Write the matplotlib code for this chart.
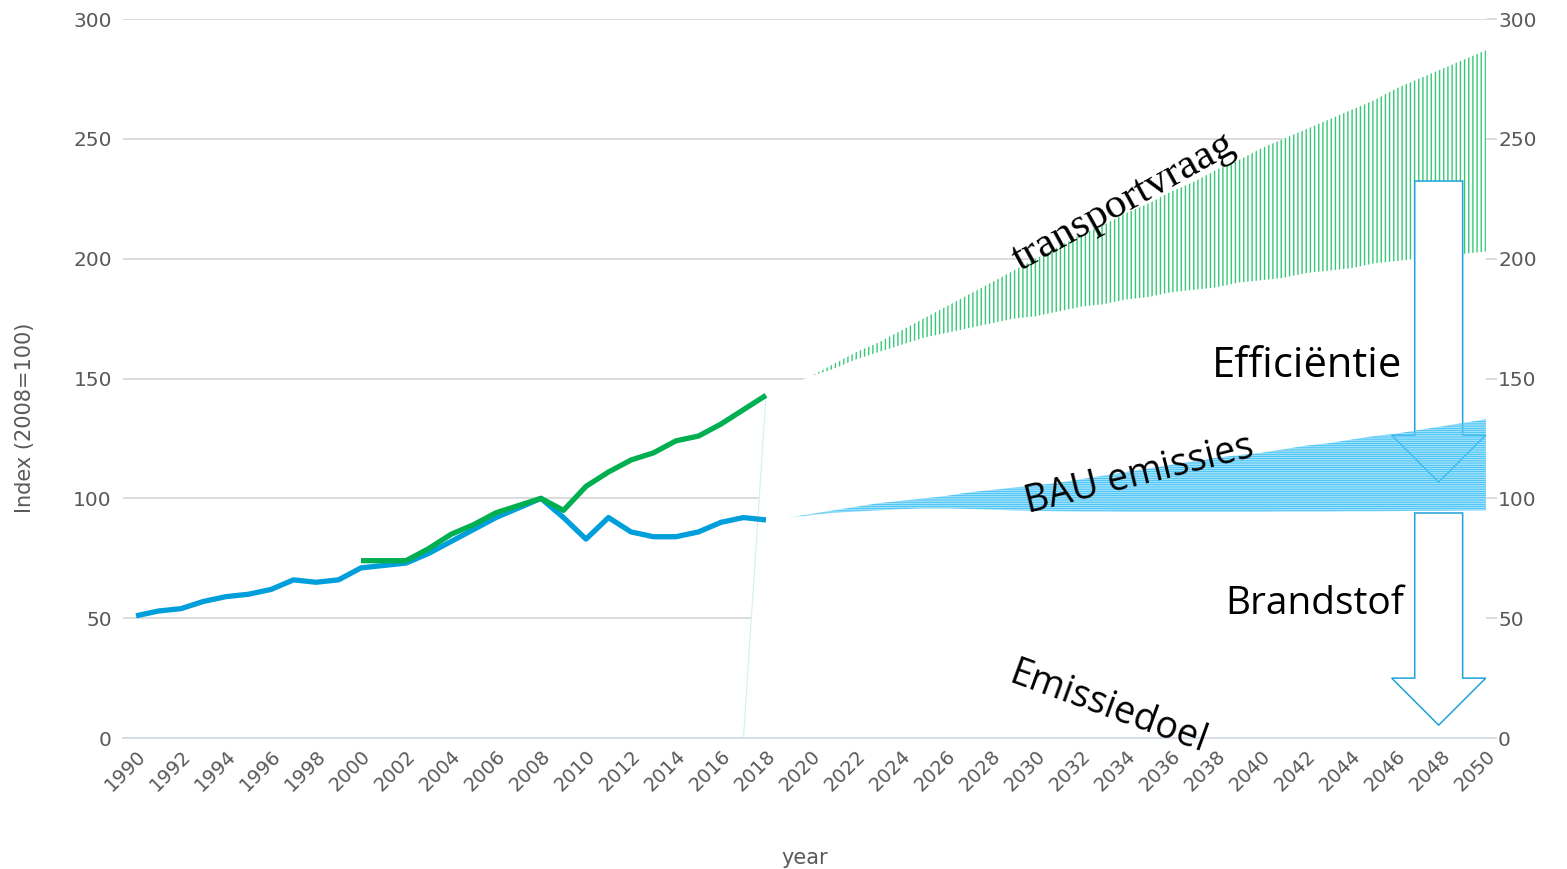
import matplotlib
matplotlib.use('Agg')
import matplotlib.pyplot as plt
from matplotlib.patches import FancyArrow
import numpy as np

# historical series, index 2008 = 100
hist_years = np.arange(1990, 2019)
emissions = [51, 53, 54, 57, 59, 60, 62, 66, 65, 66, 71, 72, 73, 77, 82, 87, 92, 96, 100,
             92, 83, 92, 86, 84, 84, 86, 90, 92, 91]
demand_years = np.arange(2000, 2019)
demand = [74, 74, 74, 79, 85, 89, 94, 97, 100, 95, 105, 111, 116, 119, 124, 126, 131, 137, 143]

# scenario bands 2018-2050
scen_years = np.arange(2018, 2051)
demand_high = [143, 147, 151, 156, 161, 165, 170, 175, 180, 185, 190, 195, 200, 205, 210, 214, 219,
               223, 228, 232, 237, 241, 246, 250, 254, 258, 262, 266, 271, 275, 279, 283, 287]
demand_low = [143, 147, 151, 154, 158, 161, 164, 167, 169, 171, 173, 175, 176, 178, 180, 181, 183,
              184, 186, 187, 188, 190, 191, 192, 194, 195, 196, 198, 199, 200, 201, 202, 203]
bau_high = [91, 92, 93.5, 95, 96.5, 98, 99, 100, 101, 102.5, 103.5, 104.5, 105.5, 106.5, 108, 109.5, 111,
            112.5, 114, 115.5, 117, 118, 119, 120.5, 122, 123, 124.5, 126, 127, 128.5, 130, 131.5, 133]
bau_low = [91, 92, 93, 94, 94.5, 95, 95.5, 95.8, 95.8, 95.6, 95.3, 95, 94.8, 94.6, 94.5, 94.5, 94.4,
           94.4, 94.4, 94.4, 94.4, 94.4, 94.4, 94.5, 94.5, 94.5, 94.6, 94.6, 94.7, 94.8, 94.8, 94.9, 95]

# white backdrop under the scenario part (starts from zero in 2017)
mask_years = np.arange(2017, 2051)
mask_top = [0] + demand_high

blue = '#009fdc'
green = '#00b050'
grey = '#595959'

plt.rcParams['hatch.linewidth'] = 1.0

fig = plt.figure(figsize=(15.67, 8.69), dpi=100)
ax = fig.add_axes([0.0785, 0.1507, 0.8704, 0.8274])

ax.fill_between(mask_years, 0, mask_top, facecolor='white', lw=0, zorder=1)
ax.plot(mask_years[:2], mask_top[:2], color='#d5eef6', lw=0.8, zorder=1.1)

ax.fill_between(scen_years, demand_low, demand_high, facecolor='none', edgecolor='#35c977',
                lw=0, hatch='||||', zorder=2)

# arrows: efficiency and fuel
arrow_kw = dict(width=2.13, head_width=4.18, length_includes_head=True,
                facecolor='white', edgecolor='#1ea2dc', lw=1.1)
ax.add_patch(FancyArrow(2047.9, 232.4, 0, -125.6, head_length=19.6, zorder=3, **arrow_kw))
ax.add_patch(FancyArrow(2047.9, 93.9, 0, -88.5, head_length=19.6, zorder=3, **arrow_kw))

ax.fill_between(scen_years, bau_low, bau_high, facecolor='none', edgecolor='#4fc6f5',
                lw=0, hatch='---------', zorder=3.5)

ax.plot(hist_years, emissions, color=blue, lw=3.8, solid_capstyle='butt', zorder=4)
ax.plot(demand_years, demand, color=green, lw=3.8, solid_capstyle='butt', zorder=5)

ax.text(2029.3, 194.8, 'transportvraag', family='Liberation Serif', fontsize=31,
        rotation=29, rotation_mode='anchor', ha='left', va='baseline', zorder=6)
ax.text(2046.27, 150.6, 'Efficiëntie', family='Open Sans', fontsize=30,
        ha='right', va='baseline', zorder=6)
ax.text(2029.64, 93.9, 'BAU emissies', family='Open Sans', fontsize=27,
        rotation=14, rotation_mode='anchor', ha='left', va='baseline', zorder=6)
ax.text(2046.35, 51.6, 'Brandstof', family='Open Sans', fontsize=28,
        ha='right', va='baseline', zorder=6)
ax.text(2028.71, 23.4, 'Emissiedoel', family='Open Sans', fontsize=27,
        rotation=-20, rotation_mode='anchor', ha='left', va='baseline', zorder=6)

ax.set_xlim(1989.422, 2050.044)
ax.set_ylim(0, 300)
ax.set_yticks(range(0, 301, 50))
ax.set_xticks(range(1990, 2051, 2))
ax.set_xticklabels([str(y) for y in range(1990, 2051, 2)], rotation=45,
                   ha='right', va='top', rotation_mode='anchor')

ax.yaxis.grid(True, color='#d9d9d9', lw=1.3)
ax.set_axisbelow(True)
for s in ['top', 'left', 'right']:
    ax.spines[s].set_visible(False)
ax.spines['bottom'].set_color('#d6dce4')
ax.spines['bottom'].set_linewidth(1.3)

ax.tick_params(axis='y', left=False, right=True, labelleft=True, labelright=True,
               length=7, width=1.3, color='#d9d9d9', pad=1, labelsize=14.5, labelcolor=grey)
ax.tick_params(axis='x', length=0, pad=6, labelsize=14, labelcolor=grey)

ax.set_xlabel('year', fontsize=15, color=grey, labelpad=38)
fig.text(25 / 1567, 1 - 418 / 869, 'Index (2008=100)', rotation=90, fontsize=15,
         color=grey, ha='center', va='center')

fig.savefig('out.png', dpi=100)
